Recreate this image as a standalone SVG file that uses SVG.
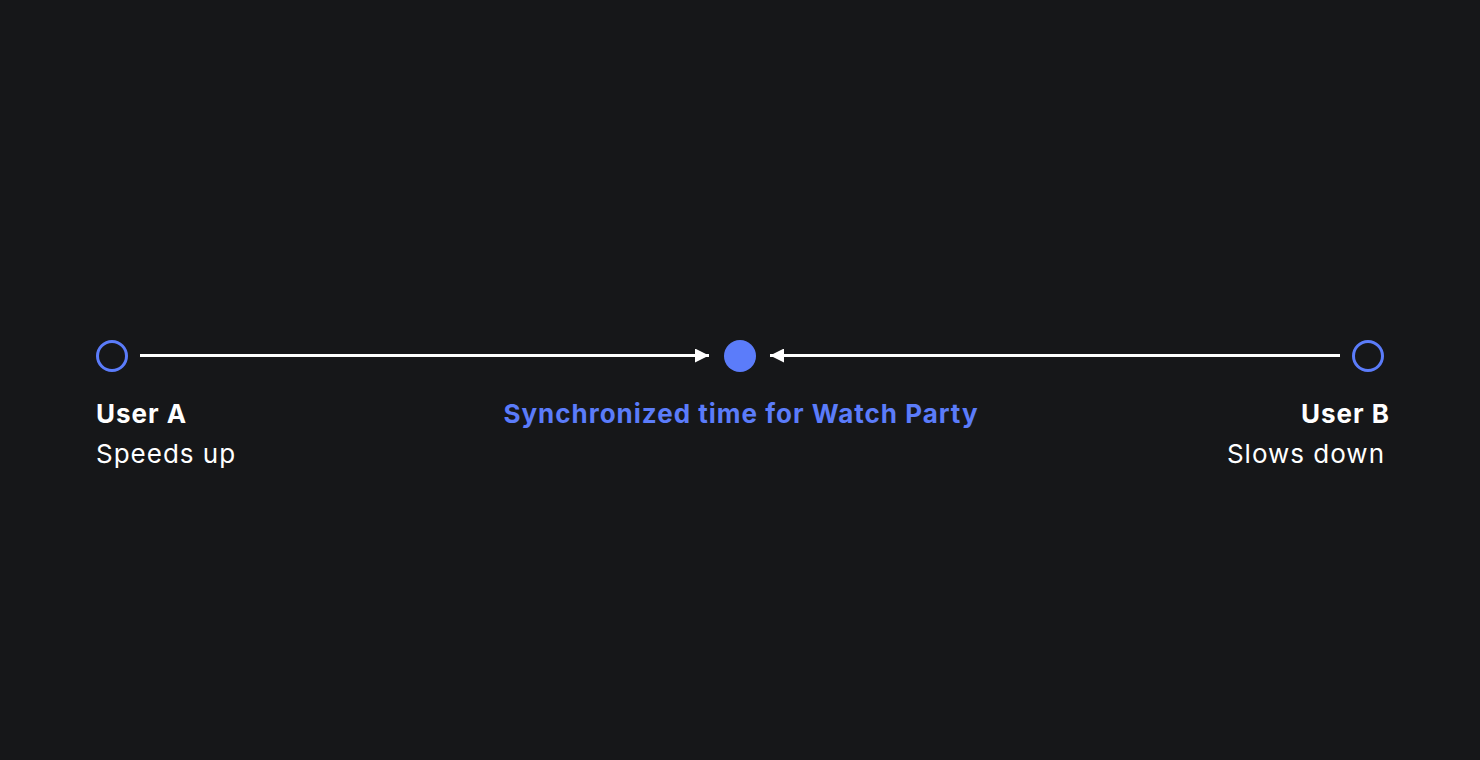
<svg xmlns="http://www.w3.org/2000/svg" width="1480" height="760" viewBox="0 0 1480 760">
<style>
.t{font-family:Inter,"Noto Sans","Liberation Sans",sans-serif;font-size:26px;letter-spacing:1px;}
.b{font-weight:700;fill:#ffffff;}
.r{font-weight:400;fill:#ffffff;}
.c{font-weight:700;fill:#5b7cfa;}
.edge{stroke:#ffffff;stroke-width:3;fill:none;}
.ring{fill:none;stroke:#5b7cfa;stroke-width:3;}
</style>
<defs>
<marker id="ah" viewBox="0 0 10 10" refX="10" refY="5" markerWidth="14" markerHeight="14" markerUnits="userSpaceOnUse" orient="auto">
<path d="M0,0 L10,5 L0,10 z" fill="#ffffff"/>
</marker>
</defs>
<rect width="1480" height="760" fill="#161719"/>
<g id="connectors">
<line class="edge" x1="140" y1="355.5" x2="709" y2="355.5" marker-end="url(#ah)"/>
<line class="edge" x1="1340" y1="355.5" x2="770" y2="355.5" marker-end="url(#ah)"/>
</g>
<g id="userA">
<circle class="ring" cx="112" cy="356" r="14.5"/>
<text class="t b" x="96" y="423">User A</text>
<text class="t r" x="96" y="463">Speeds up</text>
</g>
<g id="sync">
<circle cx="740" cy="356" r="16" fill="#5b7cfa"/>
<text class="t c" x="741" y="423" text-anchor="middle">Synchronized time for Watch Party</text>
</g>
<g id="userB">
<circle class="ring" cx="1368" cy="356" r="14.5"/>
<text class="t b" x="1390" y="423" text-anchor="end">User B</text>
<text class="t r" x="1385" y="463" text-anchor="end">Slows down</text>
</g>
</svg>
